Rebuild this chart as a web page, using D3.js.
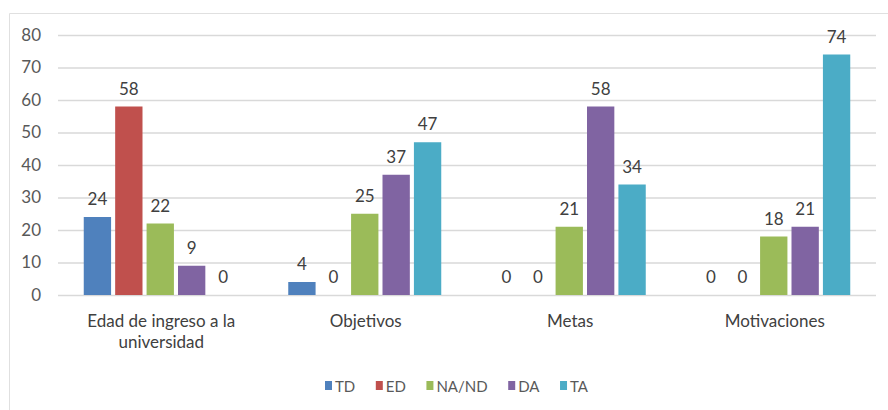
<!DOCTYPE html>
<html><head><meta charset="utf-8">
<script src="https://cdn.jsdelivr.net/npm/d3@7"></script>
<style>body{margin:0;background:#fff}svg{display:block}text{font-family:Lato,"Open Sans",sans-serif}</style>
</head><body><svg id="c" width="888" height="410"></svg>
<script>
const categories = [["Edad de ingreso a la","universidad"],["Objetivos"],["Metas"],["Motivaciones"]];
const seriesNames = ["TD","ED","NA/ND","DA","TA"];
const TD = [24,4,0,0];
const ED = [58,0,0,0];
const NAND = [22,25,21,18];
const DA = [9,37,58,21];
const TA = [0,47,34,74];
const yTicks = [0,10,20,30,40,50,60,70,80];
const colors = ["#4F81BD","#C0504D","#9BBB59","#8064A2","#4BACC6"];
const seriesValues = [TD,ED,NAND,DA,TA];

const svg = d3.select("#c");
// chart border (top & left visible)
svg.append("line").attr("x1",9.5).attr("x2",888).attr("y1",13.5).attr("y2",13.5).attr("stroke","#e0e0e0");
svg.append("line").attr("x1",9.5).attr("x2",9.5).attr("y1",13.5).attr("y2",410).attr("stroke","#e0e0e0");

const pLeft=58,pRight=876,pTop=35,pBottom=295;
const y = d3.scaleLinear().domain([0,80]).range([pBottom,pTop]);
const x0 = d3.scaleBand().domain(d3.range(categories.length)).range([pLeft,pRight]).paddingInner(0).paddingOuter(0);
const gw = x0.bandwidth();
const groupW = 153;
const x1 = d3.scaleBand().domain(d3.range(seriesNames.length)).range([(gw-groupW)/2,(gw+groupW)/2]).paddingInner(0.13);

// gridlines
const yAxis = d3.axisLeft(y).tickValues(yTicks).tickSize(-(pRight-pLeft)).tickPadding(17);
const ga = svg.append("g").attr("transform",`translate(${pLeft},0)`).call(yAxis);
ga.select(".domain").remove();
ga.selectAll(".tick line").attr("stroke","#d9d9d9").attr("stroke-width",1.3);
ga.selectAll(".tick text").attr("fill","#595959").attr("font-size",17).attr("font-family","Lato, sans-serif");

const groups = svg.append("g").selectAll("g").data(categories).join("g")
  .attr("transform",(d,i)=>`translate(${x0(i)},0)`);
groups.each(function(c,ci){
  const g=d3.select(this);
  seriesValues.forEach((vals,si)=>{
    const v=vals[ci];
    g.append("rect").attr("x",x1(si)).attr("width",x1.bandwidth())
      .attr("y",y(v)).attr("height",pBottom-y(v)).attr("fill",colors[si]);
    g.append("text").attr("x",x1(si)+x1.bandwidth()/2).attr("y",y(v)-12)
      .attr("text-anchor","middle").attr("fill","#404040").attr("font-size",17).text(v);
  });
  c.forEach((line,li)=>{
    g.append("text").attr("x",gw/2+1).attr("y",327+li*21).attr("text-anchor","middle")
      .attr("fill","#404040").attr("font-size",17).text(line);
  });
});

// legend
const legend = svg.append("g");
const items = seriesNames.map((n,i)=>{
  const t = legend.append("text").attr("y",392).attr("fill","#595959").attr("font-size",15).text(n);
  return {t, w: 10 + t.node().getComputedTextLength(), i};
});
const legStart = 325, legEnd = 588;
const gap = (legEnd-legStart - d3.sum(items,d=>d.w))/(items.length-1);
let lx = legStart;
items.forEach(it=>{
  legend.append("rect").attr("x",lx).attr("y",381).attr("width",7).attr("height",9).attr("fill",colors[it.i]);
  it.t.attr("x",lx+10);
  lx += it.w + gap;
});
</script></body></html>
